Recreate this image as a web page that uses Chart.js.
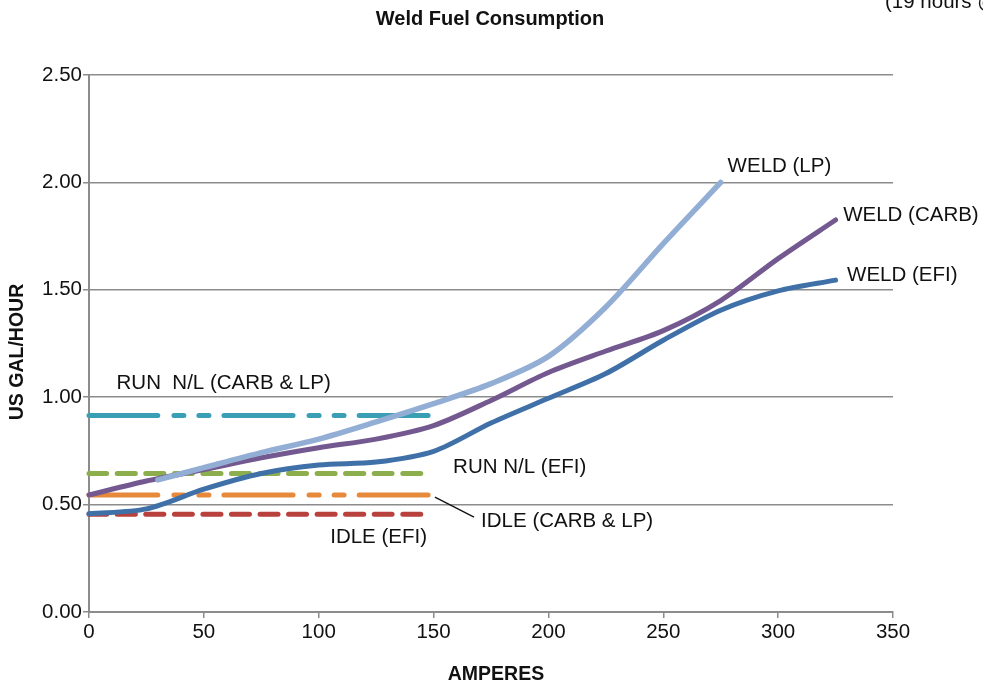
<!DOCTYPE html>
<html>
<head>
<meta charset="utf-8">
<script src="https://cdn.jsdelivr.net/npm/chart.js@4.4.1/dist/chart.umd.min.js"></script>
<style>
  html, body { margin: 0; padding: 0; background: #ffffff; }
  #wrap { width: 983px; height: 684px; position: relative; }
</style>
</head>
<body>
<div id="wrap"><canvas id="fuelChart" width="983" height="684"></canvas></div>
<script>
// Data
const ampsFull = [0, 25, 50, 75, 100, 125, 150, 175, 200, 225, 250, 275, 300, 325];
const weldEfi  = [0.457, 0.48, 0.572, 0.645, 0.684, 0.698, 0.748, 0.88, 0.995, 1.11, 1.265, 1.405, 1.495, 1.545];
const weldCarb = [0.545, 0.61, 0.663, 0.718, 0.765, 0.805, 0.868, 0.985, 1.115, 1.215, 1.31, 1.45, 1.645, 1.825];

const ampsLp = [30, 50, 75, 100, 125, 150, 175, 200, 225, 250, 275];
const weldLp = [0.615, 0.672, 0.742, 0.805, 0.885, 0.97, 1.063, 1.19, 1.42, 1.715, 2.0];

// flat reference lines (run / idle), drawn from 0 to ~150 A
const flatAmps = [0, 148.5];
const runCarbLp = 0.915;
const runEfi = 0.645;
const idleCarbLp = 0.545;
const idleEfi = 0.455;

const xTicks = [0, 50, 100, 150, 200, 250, 300, 350];
const yTicks = [0, 0.5, 1.0, 1.5, 2.0, 2.5];

const FONT = '"Liberation Sans", Arial, Helvetica, sans-serif';

function pts(xs, ys) {
  return xs.map((x, i) => ({ x: x, y: ys[i] }));
}
function flat(v) {
  return flatAmps.map(x => ({ x: x, y: v }));
}

// text labels placed in data units
const labels = [
  { text: 'RUN  N/L (CARB & LP)', a: 12, v: 1.066 },
  { text: 'RUN N/L (EFI)', a: 158.5, v: 0.675 },
  { text: 'IDLE (CARB & LP)', a: 170.7, v: 0.424 },
  { text: 'IDLE (EFI)', a: 105, v: 0.349 },
  { text: 'WELD (LP)', a: 278, v: 2.076 },
  { text: 'WELD (CARB)', a: 328.3, v: 1.848 },
  { text: 'WELD (EFI)', a: 330, v: 1.569 }
];

const textPlugin = {
  id: 'textPlugin',
  afterDraw(chart) {
    const ctx = chart.ctx;
    const xs = chart.scales.x, ys = chart.scales.y;
    ctx.save();
    ctx.fillStyle = '#111';
    ctx.font = '20.5px ' + FONT;
    ctx.textAlign = 'left';
    ctx.textBaseline = 'middle';
    labels.forEach(l => {
      ctx.fillText(l.text, xs.getPixelForValue(l.a), ys.getPixelForValue(l.v));
    });

    // leader line for IDLE (CARB & LP)
    ctx.strokeStyle = '#111';
    ctx.lineWidth = 1.3;
    ctx.beginPath();
    ctx.moveTo(xs.getPixelForValue(150.6), ys.getPixelForValue(0.535));
    ctx.lineTo(xs.getPixelForValue(167.6), ys.getPixelForValue(0.442));
    ctx.stroke();

    // title
    ctx.font = 'bold 20px ' + FONT;
    ctx.textAlign = 'center';
    ctx.textBaseline = 'alphabetic';
    ctx.fillText('Weld Fuel Consumption', 490, 25);

    // cut-off note at the top right
    ctx.font = '20.5px ' + FONT;
    ctx.textAlign = 'left';
    ctx.fillText('(19 hours @', 885, 8);

    // axis titles
    ctx.font = 'bold 19.5px ' + FONT;
    ctx.textAlign = 'center';
    ctx.textBaseline = 'middle';
    ctx.fillText('AMPERES', 496, 675);
    ctx.translate(18, 352);
    ctx.rotate(-Math.PI / 2);
    ctx.fillText('US GAL/HOUR', 0, 0);
    ctx.restore();
  }
};

const longDashDot = [69, 16, 10, 15, 10, 15];
const shortDash = [18, 10.5];

const ctx = document.getElementById('fuelChart').getContext('2d');
new Chart(ctx, {
  type: 'scatter',
  data: {
    datasets: [
      { label: 'WELD (LP)', data: pts(ampsLp, weldLp), borderColor: '#93AED4', borderWidth: 5.5 },
      { label: 'WELD (CARB)', data: pts(ampsFull, weldCarb), borderColor: '#73598F', borderWidth: 5 },
      { label: 'WELD (EFI)', data: pts(ampsFull, weldEfi), borderColor: '#4070A8', borderWidth: 5 },
      { label: 'RUN N/L (CARB & LP)', data: flat(runCarbLp), borderColor: '#3A9EB5', borderWidth: 5,
        borderDash: longDashDot },
      { label: 'RUN N/L (EFI)', data: flat(runEfi), borderColor: '#8CAE4C', borderWidth: 5,
        borderDash: shortDash },
      { label: 'IDLE (CARB & LP)', data: flat(idleCarbLp), borderColor: '#E6893A', borderWidth: 5,
        borderDash: longDashDot },
      { label: 'IDLE (EFI)', data: flat(idleEfi), borderColor: '#B8413E', borderWidth: 5,
        borderDash: shortDash }
    ].map(d => Object.assign({
      showLine: true,
      pointRadius: 0,
      pointHoverRadius: 0,
      tension: 0.3,
      borderCapStyle: 'round',
      borderJoinStyle: 'round',
      clip: false
    }, d))
  },
  options: {
    responsive: false,
    animation: false,
    events: [],
    layout: { padding: { left: 0, top: 75, right: 90, bottom: 30 } },
    plugins: {
      legend: { display: false },
      tooltip: { enabled: false },
      title: { display: false }
    },
    scales: {
      x: {
        type: 'linear',
        min: 0,
        max: 350,
        afterBuildTicks: s => { s.ticks = xTicks.map(v => ({ value: v })); },
        afterFit: s => { s.height = 42; },
        ticks: { color: '#111', font: { family: FONT, size: 20.5 }, padding: 2, maxRotation: 0 },
        grid: { drawOnChartArea: false, drawTicks: true, tickLength: 6, color: '#8c8c8c', lineWidth: 1.5 },
        border: { color: '#8c8c8c', width: 2 }
      },
      y: {
        type: 'linear',
        min: 0,
        max: 2.5,
        afterBuildTicks: s => { s.ticks = yTicks.map(v => ({ value: v })); },
        afterFit: s => { s.width = 89; },
        ticks: { color: '#111', font: { family: FONT, size: 20.5 }, padding: 1,
          callback: v => Number(v).toFixed(2) },
        grid: { color: '#8c8c8c', lineWidth: 1.5, tickLength: 6 },
        border: { color: '#8c8c8c', width: 2 }
      }
    }
  },
  plugins: [textPlugin]
});
</script>
</body>
</html>
